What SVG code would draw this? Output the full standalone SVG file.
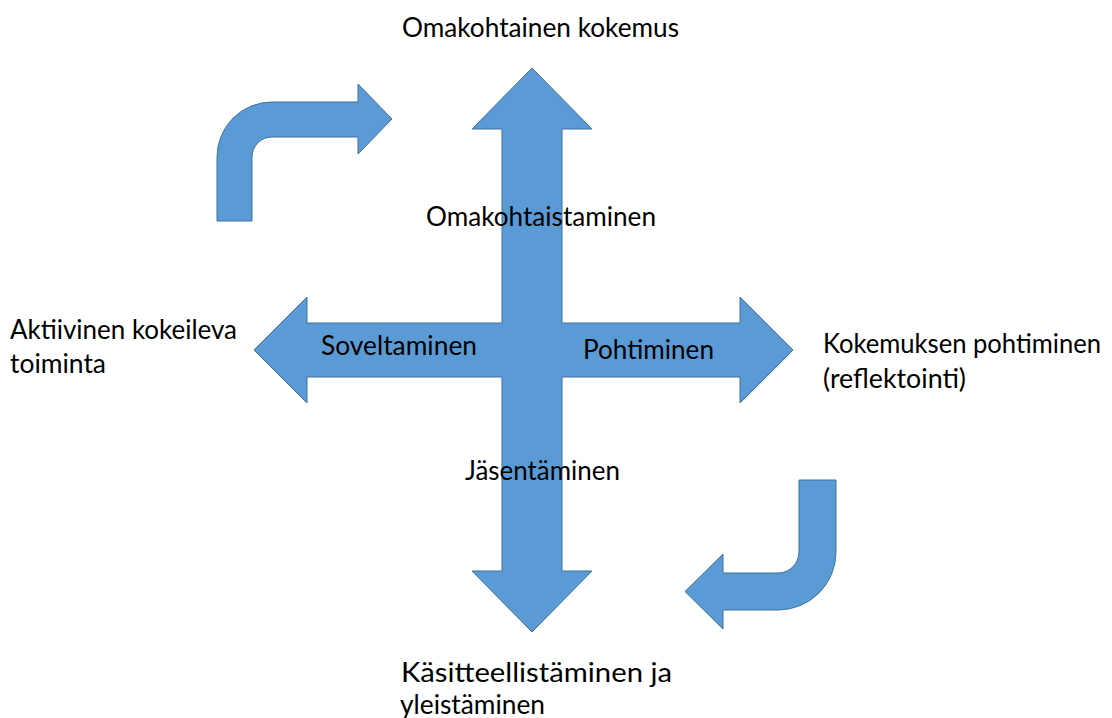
<svg xmlns="http://www.w3.org/2000/svg" width="1112" height="718" viewBox="0 0 1112 718">
<style>
.shape{fill:#5b9bd5;stroke:#41719c;stroke-width:1;stroke-linejoin:miter}
text{font-family:Lato,"Liberation Sans",sans-serif;font-size:27px;fill:#000}
</style>
<rect width="1112" height="718" fill="#fff"/>
<g id="connectors">
<path id="cross" class="shape" d="M532,68 L592,129 L562,129 L562,323 L740,323 L740,297 L793,350 L740,403 L740,377 L562,377 L562,571 L592,571 L532,632 L472,571 L502,571 L502,377 L307,377 L307,403 L254,350 L307,297 L307,323 L502,323 L502,129 L472,129 Z"/>
<path id="bent-top-left" class="shape" d="M217,221 L217,157 A55,55 0 0 1 272,102 L358,102 L358,84 L392,119 L358,154 L358,137 L272,137 A20,20 0 0 0 252,157 L252,221 Z"/>
<path id="bent-bottom-right" class="shape" d="M836,480 L836,552 A58,58 0 0 1 778,610 L723,610 L723,629 L685,591.5 L723,554 L723,573 L778,573 A21,21 0 0 0 799,552 L799,480 Z"/>
</g>
<g id="node-top"><text x="402" y="37" textLength="277" lengthAdjust="spacingAndGlyphs">Omakohtainen kokemus</text></g>
<g id="label-up"><text x="426" y="226" textLength="230" lengthAdjust="spacingAndGlyphs">Omakohtaistaminen</text></g>
<g id="node-left"><text x="10" y="339" textLength="227" lengthAdjust="spacingAndGlyphs">Aktiivinen kokeileva</text><text x="10" y="373" textLength="96" lengthAdjust="spacingAndGlyphs">toiminta</text></g>
<g id="label-left"><text x="321" y="355" textLength="156" lengthAdjust="spacingAndGlyphs">Soveltaminen</text></g>
<g id="label-right"><text x="583" y="359" textLength="131" lengthAdjust="spacingAndGlyphs">Pohtiminen</text></g>
<g id="node-right"><text x="823" y="353" font-size="26" textLength="278" lengthAdjust="spacingAndGlyphs" style="font-size:26px">Kokemuksen pohtiminen</text><text x="823" y="388" textLength="143" lengthAdjust="spacingAndGlyphs">(reflektointi)</text></g>
<g id="label-down"><text x="465" y="480" textLength="155" lengthAdjust="spacingAndGlyphs">Jäsentäminen</text></g>
<g id="node-bottom"><text x="401" y="682" textLength="271" lengthAdjust="spacingAndGlyphs">Käsitteellistäminen ja</text><text x="400" y="714" textLength="145" lengthAdjust="spacingAndGlyphs">yleistäminen</text></g>
</svg>
